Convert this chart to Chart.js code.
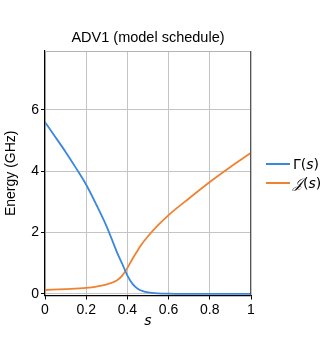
<!DOCTYPE html>
<html><head><meta charset="utf-8">
<script src="https://cdn.jsdelivr.net/npm/chart.js@4/dist/chart.umd.min.js"></script>
<style>
html,body{margin:0;padding:0;background:#fff;}
#wrap{position:relative;width:336px;height:347px;}
#title{position:absolute;left:45px;width:206px;top:29px;text-align:center;font:14.5px "Liberation Sans",Arial,sans-serif;color:#000;white-space:nowrap;}
.leg{position:absolute;left:266px;height:16px;font:14px "DejaVu Sans",sans-serif;color:#000;white-space:nowrap;}
.leg .ln{position:absolute;left:0;top:7px;width:24px;height:2px;}
.leg .tx{position:absolute;left:27px;top:0;line-height:16px;}
</style></head>
<body><div id="wrap"><canvas id="c" width="336" height="347"></canvas>
<div id="title">ADV1 (model schedule)</div>
<div class="leg" style="top:156px"><div class="ln" style="background:#3987e1"></div><div class="tx">Γ(<i>s</i>)</div></div>
<div class="leg" style="top:175px"><div class="ln" style="background:#f0822f"></div><div class="tx"><span style="font-family:'DejaVu Serif',serif;font-style:italic">𝒥</span>(<i>s</i>)</div></div>
</div>
<script>
const sGamma = [0, 0.05, 0.1, 0.15, 0.2, 0.25, 0.3, 0.35, 0.375, 0.4, 0.425, 0.45, 0.475, 0.5, 0.55, 0.6, 0.7, 0.8, 0.9, 1.0];
const gammaVals = [5.6, 5.12, 4.63, 4.11, 3.56, 2.9, 2.19, 1.35, 0.98, 0.6, 0.33, 0.17, 0.09, 0.05, 0.02, 0.01, 0, 0, 0, 0];
const sJ = [0, 0.1, 0.2, 0.25, 0.3, 0.35, 0.375, 0.4, 0.425, 0.45, 0.465, 0.5, 0.55, 0.6, 0.7, 0.8, 0.9, 1.0];
const jVals = [0.13, 0.16, 0.2, 0.24, 0.31, 0.45, 0.6, 0.85, 1.15, 1.42, 1.58, 1.88, 2.25, 2.57, 3.12, 3.65, 4.14, 4.6];
const xTicks = [0, 0.2, 0.4, 0.6, 0.8, 1];
const yTicks = [0, 2, 4, 6];

const pts = (xs, ys) => xs.map((x, i) => ({x: x, y: ys[i]}));

const frame = {
  id: 'frame',
  afterDatasetsDraw(chart) {
    const {ctx, chartArea: a} = chart;
    ctx.save();
    ctx.lineWidth = 1;
    ctx.strokeStyle = '#b4b4b4';
    ctx.beginPath(); ctx.moveTo(a.left, a.top + 0.5); ctx.lineTo(a.right, a.top + 0.5); ctx.stroke();
    ctx.strokeStyle = '#555';
    ctx.beginPath(); ctx.moveTo(a.right - 0.5, a.top); ctx.lineTo(a.right - 0.5, a.bottom); ctx.stroke();
    ctx.restore();
  }
};

new Chart(document.getElementById('c'), {
  type: 'line',
  data: {
    datasets: [
      {label: 'Γ(s)', data: pts(sGamma, gammaVals), borderColor: '#3987e1', borderWidth: 1.8, pointRadius: 0, cubicInterpolationMode: 'monotone', fill: false},
      {label: '𝒥(s)', data: pts(sJ, jVals), borderColor: '#f0822f', borderWidth: 1.8, pointRadius: 0, cubicInterpolationMode: 'monotone', fill: false}
    ]
  },
  options: {
    responsive: false,
    animation: false,
    devicePixelRatio: 1,
    layout: {padding: {left: 0, right: 85, top: 51, bottom: 0}},
    plugins: {legend: {display: false}, title: {display: false}, tooltip: {enabled: false}},
    scales: {
      x: {
        type: 'linear', min: 0, max: 1,
        afterBuildTicks: s => { s.ticks = xTicks.map(v => ({value: v})); },
        afterFit: s => { s.height = 51.5; },
        grid: {color: '#c4c4c4', lineWidth: 1, tickLength: 4, tickColor: '#000', drawOnChartArea: true},
        border: {color: '#000', width: 1.2},
        ticks: {color: '#000', font: {family: 'Liberation Sans', size: 14}, padding: 2, maxRotation: 0,
          callback: v => String(Math.round(v * 10) / 10)},
        title: {display: true, text: 's', color: '#000', font: {family: 'DejaVu Sans', size: 14, style: 'italic'}, padding: {top: 0, bottom: 17}}
      },
      y: {
        type: 'linear', min: -0.05, max: 7.92,
        afterBuildTicks: s => { s.ticks = yTicks.map(v => ({value: v})); },
        afterFit: s => { s.width = 45; },
        grid: {color: '#c4c4c4', lineWidth: 1, tickLength: 4, tickColor: '#000'},
        border: {color: '#000', width: 1.2},
        ticks: {color: '#000', font: {family: 'Liberation Sans', size: 14}, padding: 2,
          callback: v => String(v)},
        title: {display: true, text: 'Energy (GHz)', color: '#000', font: {family: 'Liberation Sans', size: 14}, padding: {top: 3, bottom: 0}}
      }
    }
  },
  plugins: [frame]
});
</script>
</body></html>
